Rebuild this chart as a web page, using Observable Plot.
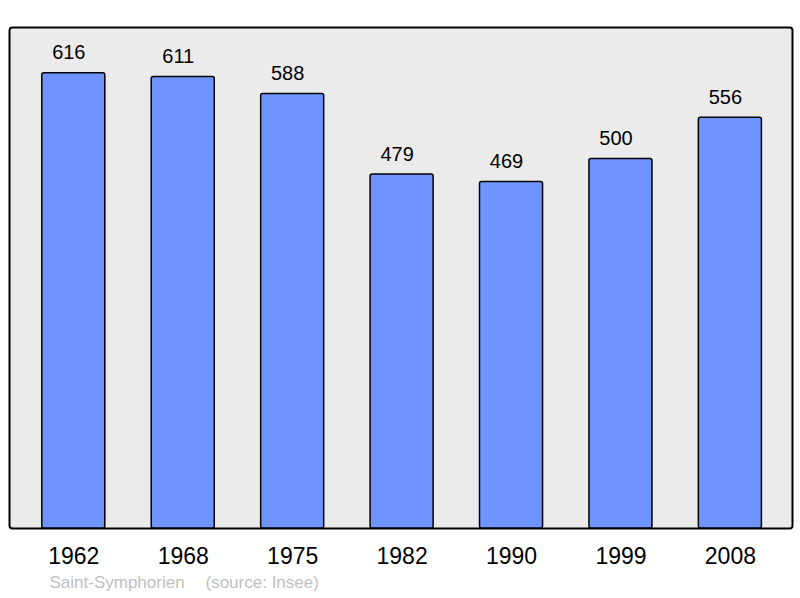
<!DOCTYPE html>
<html><head><meta charset="utf-8">
<script src="https://cdn.jsdelivr.net/npm/d3@7"></script>
<script src="https://cdn.jsdelivr.net/npm/@observablehq/plot@0.6"></script>
<style>
html,body{margin:0;padding:0;background:#fff;}
svg{display:block;font-family:"Liberation Sans",Arial,sans-serif;}
</style>
</head><body>
<div id="chart"></div>
<script>
const years = ["1962","1968","1975","1982","1990","1999","2008"];
const population = [616, 611, 588, 479, 469, 500, 556];
const placeName = "Saint-Symphorien";
const sourceNote = "(source: Insee)";

const data = years.map((y, i) => ({year: y, pop: population[i]}));

const chart = Plot.plot({
  width: 800,
  height: 598,
  marginLeft: 9,
  marginRight: 8,
  marginTop: 27,
  marginBottom: 70,
  style: {fontFamily: '"Liberation Sans", Arial, sans-serif', background: "white"},
  x: {domain: years, range: [18.6, 784.6], paddingInner: 0.424, paddingOuter: 0.212, align: 0.5, round: false, label: null},
  y: {domain: [0, 678], axis: null},
  marks: [
    Plot.frame({fill: "#ebebeb", stroke: "black", strokeWidth: 2, rx: 3}),
    Plot.barY(data, {x: "year", y: "pop", fill: "#7094ff", stroke: "black", strokeWidth: 1.5, rx: 2}),
    Plot.text(data, {x: "year", y: "pop", text: d => String(d.pop), lineAnchor: "bottom", dy: -14, dx: -5, fontSize: 20, fill: "black"}),
    Plot.axisX({tickSize: 0, tickPadding: 19, fontSize: 23, color: "black", label: null}),
    Plot.text([placeName], {frameAnchor: "bottom-left", dx: 40, dy: 59, textAnchor: "start", fontSize: 17, fill: "#c0c0c0"}),
    Plot.text([sourceNote], {frameAnchor: "bottom-left", dx: 196, dy: 59, textAnchor: "start", fontSize: 17, fill: "#c0c0c0"})
  ]
});
document.getElementById("chart").appendChild(chart);
</script>
</body></html>
